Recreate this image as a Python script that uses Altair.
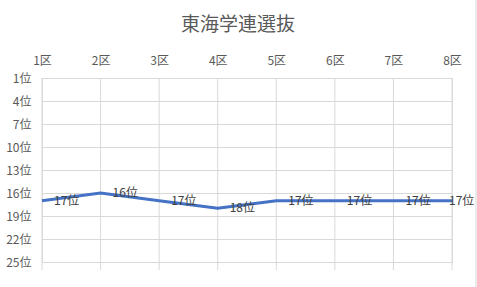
import altair as alt
import pandas as pd

title_text = ["東海学連選抜"]
stages = ["1区", "2区", "3区", "4区", "5区", "6区", "7区", "8区"]
ranks = [17, 16, 17, 18, 17, 17, 17, 17]
rank_ticks = [1, 4, 7, 10, 13, 16, 19, 22, 25]

df = pd.DataFrame({"stage": stages, "rank": ranks})
df["label"] = df["rank"].astype(str) + "位"

FONT = "Noto Sans CJK JP"
GRAY = "#595959"
GRID = "#D9D9D9"

x_scale = alt.Scale(type="point", domain=stages, padding=0)
y_scale = alt.Scale(domain=[1, 25], reverse=True, nice=False, zero=False)

y_axis = alt.Axis(title=None, values=rank_ticks, tickCount=len(rank_ticks),
                  labelExpr="datum.value + '位'", ticks=False, domain=False, grid=True,
                  gridColor=GRID, labelOverlap=False, labelPadding=11, labelFont=FONT,
                  labelFontSize=12, labelColor=GRAY)

base = alt.Chart(df)

vrules = base.mark_rule(color=GRID, strokeWidth=1).encode(
    x=alt.X("stage:N", scale=x_scale,
            axis=alt.Axis(orient="top", title=None, labelAngle=0, ticks=False, domain=False,
                          labelPadding=11, labelFont=FONT, labelFontSize=12, labelColor=GRAY,
                          labelOverlap=False, grid=False)),
    y=alt.value(0),
    y2=alt.value(192),
)

border = alt.Chart(pd.DataFrame({"b": [0]})).mark_rule(color=GRID, strokeWidth=1).encode(
    x=alt.value(434), y=alt.value(-78), y2=alt.value(209)
)

title = alt.Chart(pd.DataFrame({"t": title_text})).mark_text(
    font=FONT, fontSize=19, color=GRAY, align="center", baseline="middle"
).encode(x=alt.value(196), y=alt.value(-53), text="t:N")

line = base.mark_line(color="#4472C4", strokeWidth=3).encode(
    x=alt.X("stage:N", scale=x_scale),
    y=alt.Y("rank:Q", scale=y_scale, axis=y_axis),
)

labels = base.transform_filter(alt.datum.stage != "8区").mark_text(
    align="left", baseline="middle", dx=12, font=FONT, fontSize=12, color="#404040"
).encode(x=alt.X("stage:N", scale=x_scale), y=alt.Y("rank:Q", scale=y_scale, axis=y_axis),
         text="label:N")

last_label = base.transform_filter(alt.datum.stage == "8区").mark_text(
    align="left", baseline="middle", dx=-3, font=FONT, fontSize=12, color="#404040"
).encode(x=alt.X("stage:N", scale=x_scale), y=alt.Y("rank:Q", scale=y_scale, axis=y_axis),
         text="label:N")

chart = alt.layer(vrules, border, title, line, labels, last_label).properties(
    width=410,
    height=184,
    autosize=alt.AutoSizeParams(type="none"),
    padding={"left": 42, "top": 78, "right": 25, "bottom": 25},
).configure_view(stroke=None).configure(background="white")

chart.save("out.html", embed_options={"renderer": "svg", "actions": False})
